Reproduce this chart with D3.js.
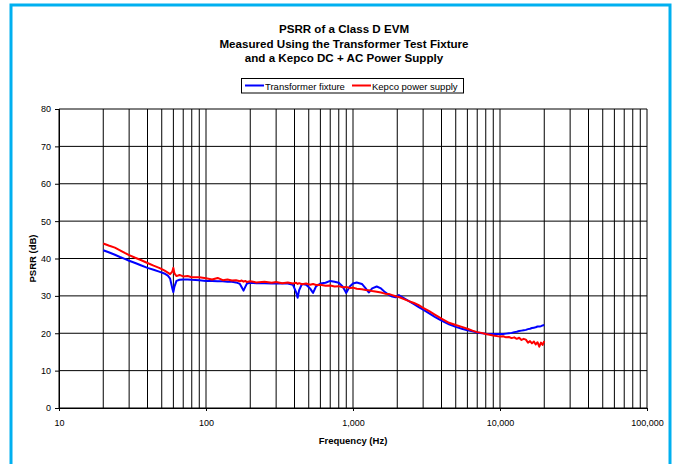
<!DOCTYPE html>
<html>
<head>
<meta charset="utf-8">
<script src="https://cdn.jsdelivr.net/npm/d3@7/dist/d3.min.js"></script>
<style>
  html, body { margin: 0; padding: 0; background: #fff; }
  svg { display: block; font-family: "Liberation Sans", Arial, sans-serif; }
</style>
</head>
<body>
<svg id="chart" width="678" height="464"></svg>
<script>
// Measurement frequencies (Hz)
const freqs = [20,22,24,26,28,30,33,36,40,44,48,52,55,57,59,60,61,63,66,70,75,80,90,
  100,110,120,130,140,150,160,170,175,180,185,190,200,220,250,280,300,330,360,390,410,420,430,
  450,480,510,535,560,600,650,700,750,800,850,900,950,1000,1060,1150,1220,1280,1350,1450,1550,
  1650,1750,1850,1950,2050,2200,2400,2600,2800,3000,3300,3600,4000,4500,5000,5500,6000,6500,
  7000,7500,8000,9000,10000,10500,11000,11500,12000,12500,13000,13500,14000,14500,15000,
  15500,16000,16500,17000,17500,18000,18500,19000,19500,20000];

// PSRR (dB) measured with the transformer fixture
const transformer = [42.2,41.6,41.0,40.4,39.9,39.4,38.8,38.2,37.5,37.0,36.5,36.0,35.4,34.6,32.0,31.0,32.5,34.0,34.3,34.4,34.4,34.3,34.2,
  34.0,34.0,33.9,33.9,33.8,33.8,33.6,33.2,32.3,31.4,32.4,33.3,33.5,33.4,33.4,33.3,33.3,33.3,33.3,33.0,31.0,29.5,31.5,
  33.2,33.0,32.0,30.8,32.5,33.3,33.5,34.0,33.8,33.5,32.5,30.8,32.5,33.3,33.6,33.2,32.0,30.9,32.0,32.5,32.0,
  31.0,30.3,29.8,29.6,30.2,29.5,28.6,27.8,27.0,26.3,25.3,24.4,23.4,22.4,21.7,21.2,20.8,20.5,
  20.2,20.0,19.9,19.8,19.8,19.8,19.9,20.0,20.1,20.3,20.4,20.6,20.7,20.8,20.9,
  21.1,21.2,21.4,21.5,21.6,21.8,21.8,21.9,22.1,22.2];

// PSRR (dB) measured with the Kepco DC + AC supply
const kepco = [44.0,43.4,42.9,42.2,41.5,40.9,40.2,39.6,38.8,38.1,37.5,36.8,36.2,35.8,36.5,37.5,36.0,35.3,35.6,35.2,35.3,35.0,35.0,
  34.7,34.4,34.8,34.2,34.4,34.1,34.2,33.9,34.1,33.8,34.0,33.7,33.9,33.6,33.8,33.5,33.7,33.4,33.6,33.3,33.5,33.2,33.4,
  33.1,33.3,33.0,33.2,32.9,33.0,32.7,32.8,32.5,32.6,32.3,32.4,32.1,32.2,31.9,31.8,31.6,31.5,31.3,31.1,30.9,
  30.6,30.5,30.2,29.9,29.7,29.2,28.6,28.1,27.5,26.8,25.9,25.0,23.9,22.8,22.2,21.7,21.2,20.7,
  20.3,20.1,19.8,19.4,19.1,19.2,18.9,19.0,18.7,18.9,18.5,18.8,18.2,18.5,18.3,
  17.5,17.9,17.3,17.8,17.0,17.6,16.4,17.5,16.9,17.9];

const yTicks = [0,10,20,30,40,50,60,70,80];
const xMajor = [10,100,1000,10000,100000];
const titleLines = ["PSRR of a Class D EVM", "Measured Using the Transformer Test Fixture", "and a Kepco DC + AC Power Supply"];
const seriesNames = ["Transformer fixture", "Kepco power supply"];
const seriesColors = ["#0000ff", "#ff0000"];

const svg = d3.select("#chart");

// outer frame
svg.append("rect").attr("x", 11).attr("y", 5).attr("width", 659).attr("height", 470)
  .attr("fill", "#fff").attr("stroke", "#00b0f0").attr("stroke-width", 3);

const x = d3.scaleLog().domain([10, 100000]).range([59, 647]);
const y = d3.scaleLinear().domain([0, 80]).range([408, 109]);

// title
svg.append("g").selectAll("text").data(titleLines).join("text")
  .attr("x", 344).attr("y", (d, i) => 33 + i * 14.5)
  .attr("text-anchor", "middle").attr("font-size", 11.6).attr("font-weight", "bold")
  .text(d => d);

// grid
const grid = svg.append("g");
grid.selectAll("line.v").data(x.ticks()).join("line").attr("class", "v")
  .attr("x1", d => x(d)).attr("x2", d => x(d))
  .attr("y1", y(80)).attr("y2", y(0))
  .attr("stroke", "#000").attr("stroke-width", 1);
grid.selectAll("line.h").data(yTicks).join("line").attr("class", "h")
  .attr("x1", x(10)).attr("x2", x(100000))
  .attr("y1", d => y(d)).attr("y2", d => y(d))
  .attr("stroke", "#000").attr("stroke-width", 1);

// axes
const yAxis = svg.append("g").attr("transform", `translate(${x(10)},0)`)
  .call(d3.axisLeft(y).tickValues(yTicks).tickSize(4).tickPadding(4));
const xAxis = svg.append("g").attr("transform", `translate(0,${y(0)})`)
  .call(d3.axisBottom(x).tickValues(xMajor).tickSize(3).tickPadding(9)
    .tickFormat(d3.format(",")));
[yAxis, xAxis].forEach(a => {
  a.selectAll("text").attr("font-size", 9).attr("fill", "#000")
    .attr("font-family", "Liberation Sans, Arial, sans-serif");
  a.selectAll("line,path").attr("stroke", "#000");
});

// axis titles
svg.append("text").attr("x", x(1000)).attr("y", 443.5).attr("text-anchor", "middle")
  .attr("font-size", 9.5).attr("font-weight", "bold").text("Frequency (Hz)");
svg.append("text").attr("transform", `translate(36,${y(40)}) rotate(-90)`)
  .attr("text-anchor", "middle").attr("font-size", 9.5).attr("font-weight", "bold").text("PSRR (dB)");

// series
const line = d3.line().x(d => x(d[0])).y(d => y(d[1]));
[transformer, kepco].forEach((vals, k) => {
  svg.append("path").datum(freqs.map((f, i) => [f, vals[i]]))
    .attr("d", line).attr("fill", "none")
    .attr("stroke", seriesColors[k]).attr("stroke-width", 2)
    .attr("stroke-linejoin", "round");
});

// legend
const lg = svg.append("g");
lg.append("rect").attr("x", 241.5).attr("y", 78.5).attr("width", 222).attr("height", 14.5)
  .attr("fill", "#fff").attr("stroke", "#000").attr("stroke-width", 1);
const legendX = [245, 352];
seriesNames.forEach((name, k) => {
  lg.append("line").attr("x1", legendX[k]).attr("x2", legendX[k] + 19)
    .attr("y1", 85.5).attr("y2", 85.5).attr("stroke", seriesColors[k]).attr("stroke-width", 2);
  lg.append("text").attr("x", legendX[k] + 20).attr("y", 89.5)
    .attr("font-size", 9.5).text(name);
});
</script>
</body>
</html>
